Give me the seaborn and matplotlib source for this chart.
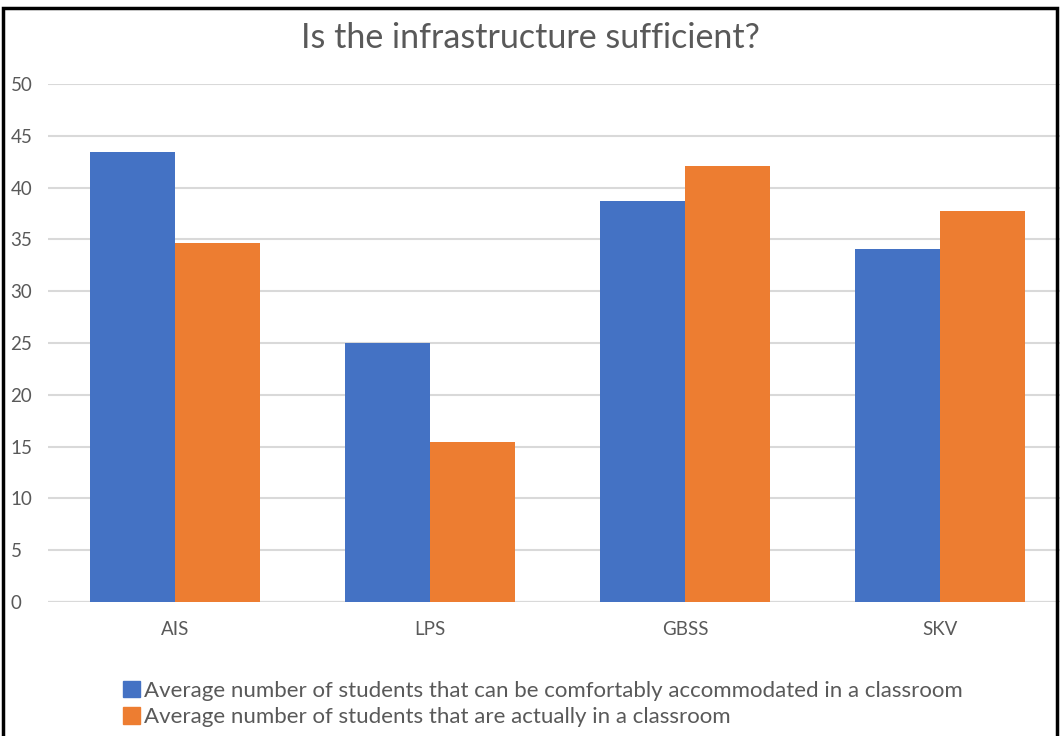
import matplotlib
matplotlib.use("Agg")
import matplotlib.pyplot as plt
import matplotlib.patches as mpatches
import pandas as pd
import seaborn as sns

schools = ["AIS", "LPS", "GBSS", "SKV"]
capacity = [43.4, 25.0, 38.7, 34.1]
actual = [34.7, 15.4, 42.1, 37.7]
series_names = [
    "Average number of students that can be comfortably accommodated in a classroom",
    "Average number of students that are actually in a classroom",
]
yticks = [0, 5, 10, 15, 20, 25, 30, 35, 40, 45, 50]

df = pd.DataFrame({
    "School": schools * 2,
    "Students": capacity + actual,
    "Series": [series_names[0]] * 4 + [series_names[1]] * 4,
})

sns.set_theme(style="white")
plt.rcParams["font.family"] = ["Lato", "DejaVu Sans"]

colors = ["#4472C4", "#ED7D31"]
txt = "#595959"

fig = plt.figure(figsize=(10.6, 7.36), dpi=100)
ax = fig.add_axes([48 / 1060, 1 - 602 / 736, 1 - 48 / 1060, (602 - 84) / 736])

sns.barplot(data=df, x="School", y="Students", hue="Series", palette=colors,
            width=0.667, gap=0, saturation=1, linewidth=0, ax=ax, legend=False)

ax.set_ylim(0, 50)
ax.set_xlim(-0.5, 3.47)
ax.set_yticks(yticks)
ax.set_yticklabels([str(v) for v in yticks])
ax.yaxis.grid(True, color="#d9d9d9", lw=1.5)
ax.set_axisbelow(True)
for s in ax.spines.values():
    s.set_visible(False)
ax.axhline(0, color="#d0d0d0", lw=1.5, zorder=0.5)
ax.set_xlabel("")
ax.set_ylabel("")
ax.tick_params(axis="x", length=0, pad=14, labelsize=13.5, labelcolor=txt)
ax.tick_params(axis="y", length=0, pad=27, labelsize=13.5, labelcolor=txt)
for lab in ax.get_yticklabels():
    lab.set_horizontalalignment("left")

fig.text(0.5, 1 - 38 / 736, "Is the infrastructure sufficient?", ha="center",
         va="center", fontsize=24.5, color=txt)

handles = [mpatches.Patch(color=c, label=n) for c, n in zip(colors, series_names)]
fig.legend(handles=handles, loc="upper left", bbox_to_anchor=(114 / 1060, 1 - 672 / 736),
           frameon=False, fontsize=16, labelcolor=txt, handlelength=0.75,
           handleheight=0.75, handletextpad=0.2, labelspacing=0.28, borderaxespad=0)

border = mpatches.Rectangle((3 / 1060, -0.05), 1054 / 1060, 1.05 - 8 / 736,
                            transform=fig.transFigure, fill=False, ec="black", lw=2.5)
fig.patches.append(border)

fig.savefig("out.png", dpi=100)
